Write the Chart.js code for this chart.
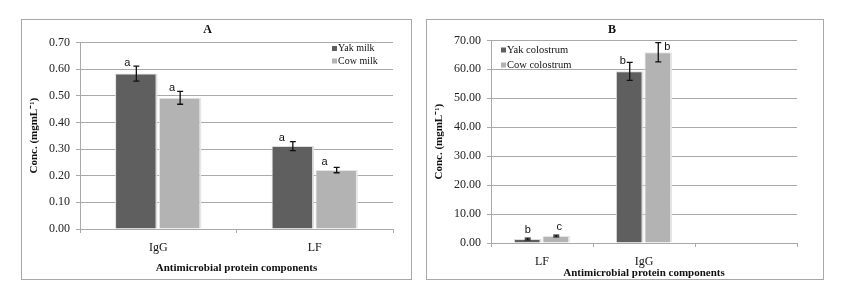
<!DOCTYPE html>
<html>
<head>
<meta charset="utf-8">
<script src="https://cdn.jsdelivr.net/npm/chart.js@4.4.1/dist/chart.umd.min.js"></script>
<style>
  body { margin: 0; background: #fff; width: 842px; height: 301px; position: relative; overflow: hidden; }
  .panel { position: absolute; box-sizing: border-box; border: 1px solid #a8a8a8; }
  .panel canvas { display: block; }
</style>
</head>
<body>
<div class="panel" id="pa" style="left:21px; top:19px; width:391px; height:261px;"><canvas id="chartA" width="389" height="259"></canvas></div>
<div class="panel" id="pb" style="left:426px; top:19px; width:398px; height:261px;"><canvas id="chartB" width="396" height="259"></canvas></div>
<script>
// panel A: milk
var catsA = ['IgG', 'LF'];
var yakMilk = [0.583, 0.311];
var yakMilkErr = [0.028, 0.017];
var cowMilk = [0.492, 0.221];
var cowMilkErr = [0.024, 0.010];
var yakMilkSig = ['a', 'a'];
var cowMilkSig = ['a', 'a'];

// panel B: colostrum
var catsB = ['LF', 'IgG', ''];
var yakCol = [1.4, 59.3, null];
var yakColErr = [0.3, 3.1, null];
var cowCol = [2.4, 65.9, null];
var cowColErr = [0.3, 3.3, null];
var yakColSig = ['b', 'b', ''];
var cowColSig = ['c', 'b', ''];

var dark = '#5f5f5f';
var light = '#b3b3b3';
var gridCol = '#a9a9a9';
var serif = '"Liberation Serif", "Times New Roman", serif';

// error bars + significance letters
var errPlugin = {
    id: 'errbars',
    afterDatasetsDraw: function(chart) {
        var ctx = chart.ctx;
        var y = chart.scales.y;
        chart.data.datasets.forEach(function(ds, i) {
            var meta = chart.getDatasetMeta(i);
            meta.data.forEach(function(bar, j) {
                var v = ds.data[j];
                if (v == null) return;
                var e = ds.err[j];
                var yt = y.getPixelForValue(v + e);
                var yb = y.getPixelForValue(v - e);
                ctx.save();
                ctx.strokeStyle = '#111';
                ctx.lineWidth = 1.3;
                ctx.beginPath();
                ctx.moveTo(bar.x, yt); ctx.lineTo(bar.x, yb);
                ctx.moveTo(bar.x - 3, yt); ctx.lineTo(bar.x + 3, yt);
                ctx.moveTo(bar.x - 3, yb); ctx.lineTo(bar.x + 3, yb);
                ctx.stroke();
                var off = ds.sigOffset[j];
                ctx.fillStyle = '#111';
                ctx.font = '11px "Liberation Sans", Arial, sans-serif';
                ctx.textAlign = 'center';
                ctx.textBaseline = 'middle';
                ctx.fillText(ds.sig[j], bar.x + off[0], yt + off[1]);
                ctx.restore();
            });
        });
    }
};

// legend drawn inside the plot area
var boxLegend = {
    id: 'boxLegend',
    afterDraw: function(chart) {
        var o = chart.options.plugins.boxLegend;
        var ctx = chart.ctx;
        ctx.save();
        ctx.font = o.size + 'px ' + serif;
        ctx.textBaseline = 'middle';
        ctx.textAlign = 'left';
        chart.data.datasets.forEach(function(ds, i) {
            var yy = o.y + i * o.gap;
            ctx.fillStyle = ds.backgroundColor;
            ctx.fillRect(o.x, yy - 2.5, 5, 5);
            ctx.fillStyle = '#111';
            ctx.fillText(ds.label, o.x + 6, yy);
        });
        ctx.restore();
    }
};

function makeChart(id, cats, sets, lay) {
    return new Chart(document.getElementById(id).getContext('2d'), {
        type: 'bar',
        data: { labels: cats, datasets: sets },
        plugins: [errPlugin, boxLegend],
        options: {
            responsive: false,
            animation: false,
            layout: { padding: { left: 0, right: lay.right, top: 0, bottom: lay.bottom } },
            datasets: { bar: { categoryPercentage: 0.56, barPercentage: 0.97 } },
            plugins: {
                legend: { display: false },
                tooltip: { enabled: false },
                title: {
                    display: true, text: lay.title, color: '#111',
                    font: { family: serif, size: 12, weight: 'bold' },
                    padding: { top: lay.titleTop, bottom: lay.titleBottom }
                },
                boxLegend: { x: lay.legX, y: lay.legY, gap: lay.legGap, size: lay.legSize }
            },
            scales: {
                x: {
                    afterFit: function(s) { s.height = lay.xh; },
                    grid: { offset: true, drawOnChartArea: false, drawTicks: true, tickLength: 4, color: gridCol },
                    border: { color: gridCol },
                    ticks: { color: '#111', padding: lay.xpad, font: { family: serif, size: 12 } },
                    title: {
                        display: true, text: 'Antimicrobial protein components', color: '#111',
                        font: { family: serif, size: 11, weight: 'bold', lineHeight: 1 },
                        padding: { top: 0, bottom: lay.xtb }
                    }
                },
                y: {
                    min: 0, max: lay.max,
                    afterFit: function(s) { s.width = lay.yw; },
                    grid: { color: gridCol, tickLength: 4 },
                    border: { color: gridCol },
                    ticks: {
                        stepSize: lay.step, color: '#222', padding: 6,
                        font: { family: serif, size: 12 },
                        callback: function(v) { return v.toFixed(2); }
                    },
                    title: {
                        display: true, text: 'Conc. (mgmL\u207B\u00B9)', color: '#111',
                        font: { family: serif, size: 11, weight: 'bold' },
                        padding: { top: 6, bottom: 0 }
                    }
                }
            }
        }
    });
}

makeChart('chartA', catsA, [
    { label: 'Yak milk', data: yakMilk, err: yakMilkErr, sig: yakMilkSig, sigOffset: [[-9, -3], [-11, -4]],
      backgroundColor: dark, borderColor: '#dedede', borderWidth: { left: 1, top: 1, right: 2 }, borderSkipped: 'bottom' },
    { label: 'Cow milk', data: cowMilk, err: cowMilkErr, sig: cowMilkSig, sigOffset: [[-8, -3], [-12, -5]],
      backgroundColor: light, borderColor: '#e6e6e6', borderWidth: { left: 1, top: 1, right: 2 }, borderSkipped: 'bottom' }
], { title: 'A', right: 18, bottom: 1, titleTop: 3, titleBottom: 5, xh: 49, xpad: 8, xtb: 4, yw: 58, max: 0.7, step: 0.1,
     legX: 310, legY: 28.5, legGap: 12.5, legSize: 10 });

makeChart('chartB', catsB, [
    { label: 'Yak colostrum', data: yakCol, err: yakColErr, sig: yakColSig, sigOffset: [[0, -8], [-7, -1], [0, 0]],
      backgroundColor: dark, borderColor: '#dedede', borderWidth: { left: 1, top: 1, right: 2 }, borderSkipped: 'bottom' },
    { label: 'Cow colostrum', data: cowCol, err: cowColErr, sig: cowColSig, sigOffset: [[3, -8], [9, 4], [0, 0]],
      backgroundColor: light, borderColor: '#e6e6e6', borderWidth: { left: 1, top: 1, right: 2 }, borderSkipped: 'bottom' }
], { title: 'B', right: 26, bottom: 0, titleTop: 3, titleBottom: 3, xh: 36, xpad: 8, xtb: 0, yw: 64, max: 70, step: 10,
     legX: 74, legY: 30, legGap: 15, legSize: 10.5 });
</script>
</body>
</html>
